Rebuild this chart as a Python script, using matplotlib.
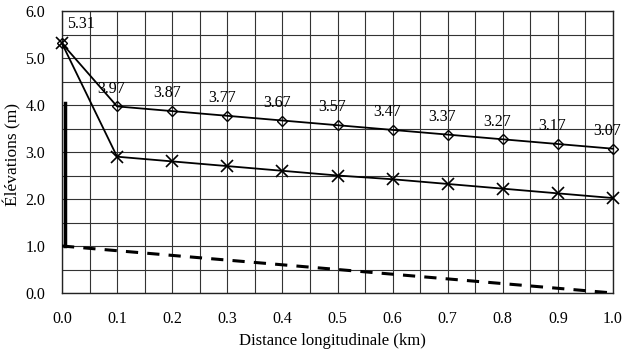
import matplotlib
matplotlib.use("Agg")
import matplotlib.pyplot as plt
import numpy as np

plt.rcParams['font.family'] = ['Liberation Serif', 'DejaVu Serif']

distance = [0.0, 0.1, 0.2, 0.3, 0.4, 0.5, 0.6, 0.7, 0.8, 0.9, 1.0]
upper = [5.31, 3.97, 3.87, 3.77, 3.67, 3.57, 3.47, 3.37, 3.27, 3.17, 3.07]
lower = [5.31, 2.90, 2.80, 2.70, 2.60, 2.50, 2.42, 2.32, 2.22, 2.12, 2.02]
bed_x = [0.0, 1.0]
bed_y = [1.0, 0.0]
wall_x = [0.005, 0.005]
wall_y = [1.0, 4.05]
xticks = [0.0, 0.1, 0.2, 0.3, 0.4, 0.5, 0.6, 0.7, 0.8, 0.9, 1.0]
yticks = [0.0, 1.0, 2.0, 3.0, 4.0, 5.0, 6.0]

fig = plt.figure(figsize=(6.28, 3.49), dpi=100)
ax = fig.add_axes([62/628, 56/349, 551/628, 282/349])

ax.set_xlim(0, 1.0)
ax.set_ylim(0, 6.0)
ax.set_xticks(xticks)
ax.set_yticks(yticks)
ax.set_xticklabels([f"{v:.1f}" for v in xticks])
ax.set_yticklabels([f"{v:.1f}" for v in yticks])
ax.set_xticks(np.arange(0, 1.0001, 0.05), minor=True)
ax.set_yticks(np.arange(0, 6.0001, 0.5), minor=True)
ax.grid(True, which='both', color='#333333', linewidth=0.8)
ax.tick_params(which='both', length=0, labelsize=11.5)
ax.tick_params(axis='x', pad=13)
ax.tick_params(axis='y', pad=12)
for s in ax.spines.values():
    s.set_color('#222222')
    s.set_linewidth(1.0)

ax.plot(bed_x, bed_y, color='black', linestyle=(0, (4, 3)), linewidth=2.2, zorder=3)
ax.plot(wall_x, wall_y, color='black', linewidth=2.5, zorder=3)
ax.plot(distance, upper, color='black', linewidth=1.3, marker='D', markersize=5.5,
        markerfacecolor='none', markeredgecolor='black', markeredgewidth=1.0, zorder=4, clip_on=False)
ax.plot(distance, lower, color='black', linewidth=1.3, marker='x', markersize=8,
        markeredgewidth=1.2, zorder=4, clip_on=False)

for x, y in zip(distance, upper):
    if x == 0.0:
        ax.annotate(f"{y:.2f}", (x, y), xytext=(4, 8), textcoords='offset points',
                    ha='left', va='bottom', fontsize=11.5)
    else:
        ax.annotate(f"{y:.2f}", (x, y), xytext=(-4, 7), textcoords='offset points',
                    ha='center', va='bottom', fontsize=11.5)

ax.set_xlabel("Distance longitudinale (km)", fontsize=12)
ax.set_ylabel("Élévations (m)", fontsize=12.5)
ax.xaxis.set_label_coords((332 - 62) / 551, (8 - 56) / 282)
ax.xaxis.label.set_va('center')
ax.yaxis.set_label_coords((12 - 62) / 551, (349 - 154 - 56) / 282)
ax.yaxis.label.set_va('center')

fig.savefig("out.png", dpi=100)
